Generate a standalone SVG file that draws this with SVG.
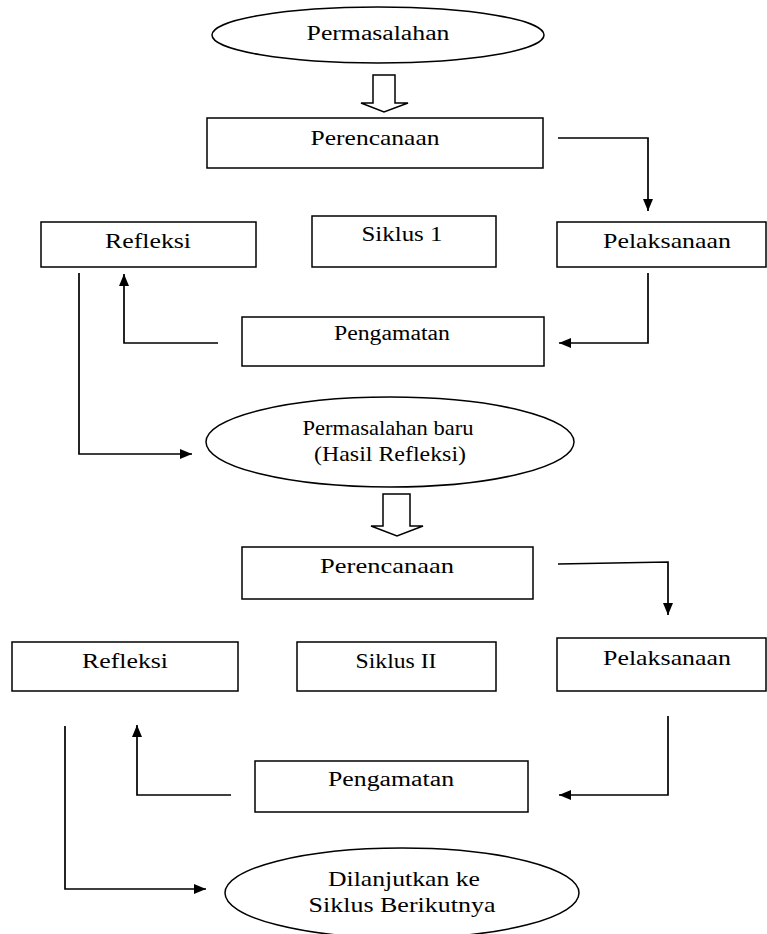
<svg xmlns="http://www.w3.org/2000/svg" width="767" height="934" viewBox="0 0 767 934">
<style>
.box{fill:#fff;stroke:#000;stroke-width:1.5}
.blk{fill:#fff;stroke:#000;stroke-width:1.5;stroke-linejoin:miter}
.con{fill:none;stroke:#000;stroke-width:1.7}
text{font-family:"Liberation Serif","Times New Roman",serif;font-size:20px;fill:#000;text-anchor:middle}
</style>
<defs>
<marker id="ah" viewBox="0 0 12 10" refX="12" refY="5" markerWidth="12" markerHeight="10" markerUnits="userSpaceOnUse" orient="auto"><path d="M0,0 L12,5 L0,10 z" fill="#000"/></marker>
</defs>
<rect width="767" height="934" fill="#fff"/>
<g id="permasalahan">
<ellipse class="box" cx="378" cy="35" rx="166" ry="28"/>
<text transform="translate(378,40) scale(1.287,1)" textLength="111" lengthAdjust="spacingAndGlyphs">Permasalahan</text>
</g>
<g id="blockarrow1"><polygon class="blk" points="373,75 395,75 395,103 408,103 384,112 361,103 373,103"/></g>
<g id="perencanaan1">
<rect class="box" x="207" y="118" width="336" height="50"/>
<text transform="translate(375,145) scale(1.277,1)" textLength="101" lengthAdjust="spacingAndGlyphs">Perencanaan</text>
</g>
<g id="refleksi1">
<rect class="box" x="41" y="222" width="215" height="45"/>
<text transform="translate(148,248) scale(1.29,1)" textLength="66.7" lengthAdjust="spacingAndGlyphs">Refleksi</text>
</g>
<g id="siklus1">
<rect class="box" x="312" y="216" width="184" height="51"/>
<text transform="translate(402,241) scale(1.186,1)" font-size="21" textLength="68.3" lengthAdjust="spacingAndGlyphs">Siklus 1</text>
</g>
<g id="pelaksanaan1">
<rect class="box" x="557" y="222" width="209" height="45"/>
<text transform="translate(667,248) scale(1.295,1)" textLength="98.8" lengthAdjust="spacingAndGlyphs">Pelaksanaan</text>
</g>
<g id="pengamatan1">
<rect class="box" x="242" y="317" width="302" height="49"/>
<text transform="translate(392,340) scale(1.356,1)" font-size="17.5" textLength="85.5" lengthAdjust="spacingAndGlyphs">Pengamatan</text>
</g>
<g id="permasalahanbaru">
<ellipse class="box" cx="390" cy="442" rx="184" ry="45"/>
<text transform="translate(388,435) scale(1.187,1)" font-size="19" textLength="144" lengthAdjust="spacingAndGlyphs">Permasalahan baru</text>
<text transform="translate(390,461) scale(1.216,1)" font-size="19" textLength="125" lengthAdjust="spacingAndGlyphs">(Hasil Refleksi)</text>
</g>
<g id="blockarrow2"><polygon class="blk" points="383,494 410,494 410,526 423,526 397,536 371,526 383,526"/></g>
<g id="perencanaan2">
<rect class="box" x="242" y="547" width="291" height="52"/>
<text transform="translate(387,573) scale(1.326,1)" textLength="101" lengthAdjust="spacingAndGlyphs">Perencanaan</text>
</g>
<g id="refleksi2">
<rect class="box" x="12" y="642" width="226" height="49"/>
<text transform="translate(125,668) scale(1.29,1)" textLength="66.7" lengthAdjust="spacingAndGlyphs">Refleksi</text>
</g>
<g id="siklus2">
<rect class="box" x="297" y="642" width="199" height="49"/>
<text transform="translate(396,668) scale(1.185,1)" textLength="68.3" lengthAdjust="spacingAndGlyphs">Siklus II</text>
</g>
<g id="pelaksanaan2">
<rect class="box" x="557" y="638" width="209" height="53"/>
<text transform="translate(667,665) scale(1.295,1)" textLength="98.8" lengthAdjust="spacingAndGlyphs">Pelaksanaan</text>
</g>
<g id="pengamatan2">
<rect class="box" x="255" y="761" width="273" height="51"/>
<text transform="translate(391,786) scale(1.289,1)" textLength="97.8" lengthAdjust="spacingAndGlyphs">Pengamatan</text>
</g>
<g id="dilanjutkan">
<ellipse class="box" cx="402" cy="893" rx="177" ry="45"/>
<text transform="translate(404,886) scale(1.285,1)" textLength="118.3" lengthAdjust="spacingAndGlyphs">Dilanjutkan ke</text>
<text transform="translate(402,912) scale(1.3,1)" textLength="143.8" lengthAdjust="spacingAndGlyphs">Siklus Berikutnya</text>
</g>
<g id="connectors">
<path class="con" d="M558,138 H648 V211" marker-end="url(#ah)"/>
<path class="con" d="M648,273 V343 H559" marker-end="url(#ah)"/>
<path class="con" d="M218,343 H124 V274" marker-end="url(#ah)"/>
<path class="con" d="M79,273 V454 H192" marker-end="url(#ah)"/>
<path class="con" d="M558,564 L668,562 V615" marker-end="url(#ah)"/>
<path class="con" d="M668,716 V795 H559" marker-end="url(#ah)"/>
<path class="con" d="M231,795 H137 V725" marker-end="url(#ah)"/>
<path class="con" d="M65,726 V889 H206" marker-end="url(#ah)"/>
</g>
</svg>
